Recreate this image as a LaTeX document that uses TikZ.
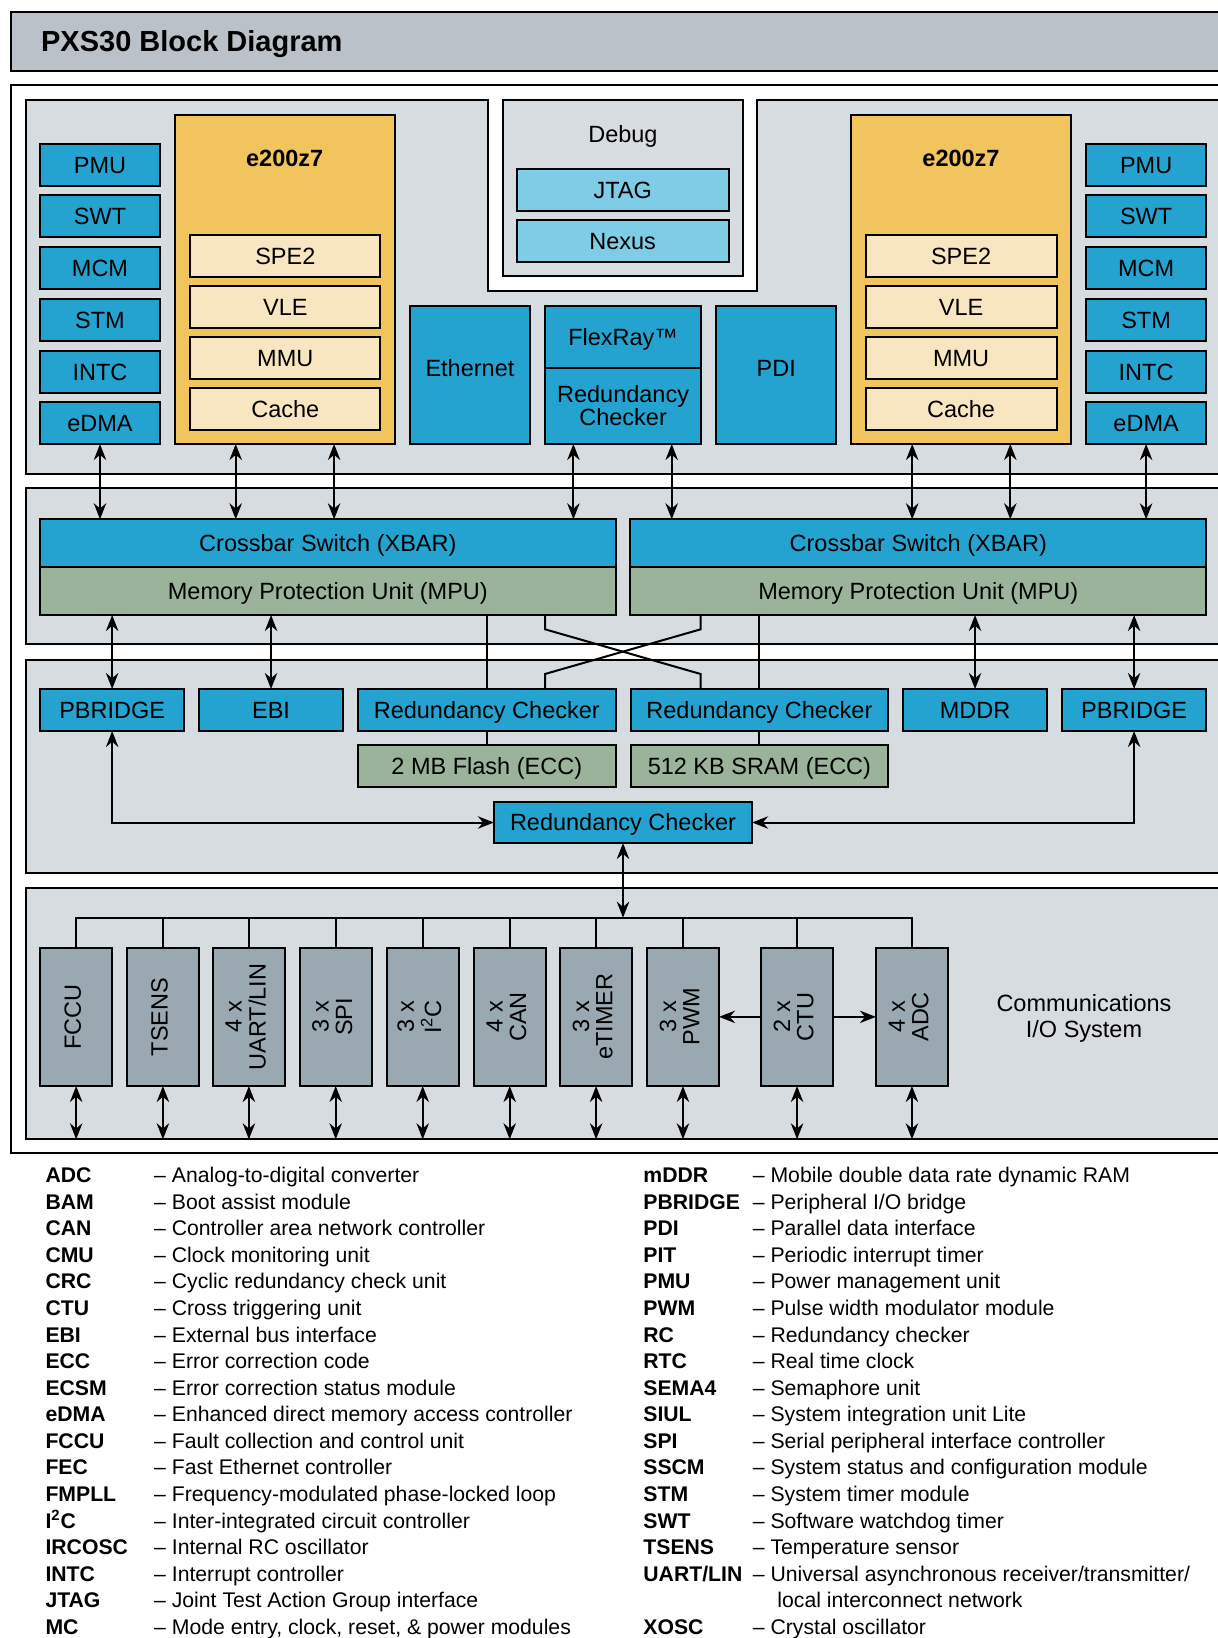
\documentclass[tikz,border=0pt]{standalone}
\usepackage{fontspec}
\usepackage{graphicx}
\setmainfont{Liberation Sans}
\usetikzlibrary{arrows.meta,calc}
\definecolor{ctitle}{HTML}{BAC1C8}
\definecolor{cpanel}{HTML}{D7DCE0}
\definecolor{cblue}{HTML}{25A3D0}
\definecolor{clblue}{HTML}{7FCCE6}
\definecolor{corange}{HTML}{F2C45E}
\definecolor{ccream}{HTML}{F8E6C0}
\definecolor{cgreen}{HTML}{9AB39A}
\definecolor{cio}{HTML}{9AA8B1}
\newcommand\lblfont{\fontsize{11.75}{11.65}\selectfont}
\newcommand\legfont{\fontsize{10.6}{13.3}\selectfont}
\newcommand\blkn[7]{\node[#6, minimum width={(#4-#2)*0.5pt}, minimum height={(#5-#3)*0.5pt}] (#1) at ({(#2+#4)/2},{(#3+#5)/2}) {#7};}
\newcommand\rtxt[1]{\rotatebox{90}{\begin{tabular}{@{}c@{}}#1\end{tabular}}}
\tikzset{
  bx/.style={draw, line width=1pt, inner sep=0pt, outer sep=0pt, font=\lblfont, text height=8.4pt, text depth=0pt},
  bxm/.style={draw, line width=1pt, inner sep=0pt, outer sep=0pt, font=\lblfont, align=center},
  bluebx/.style={bx, fill=cblue},
  lbluebx/.style={bx, fill=clblue},
  creambx/.style={bx, fill=ccream},
  greenbx/.style={bx, fill=cgreen},
  orangebx/.style={bx, fill=corange},
  panelbx/.style={bx, fill=cpanel},
  iobx/.style={bxm, fill=cio},
  raised/.style={text depth=7.2pt},
  panelfill/.style={draw, line width=1pt, fill=cpanel},
  conn/.style={line width=1pt},
  dbl/.style={line width=1pt, {Stealth[length=8pt,width=6.2pt,inset=2.6pt]}-{Stealth[length=8pt,width=6.2pt,inset=2.6pt]}},
  arr/.style={line width=1pt, -{Stealth[length=8pt,width=6.2pt,inset=2.6pt]}},
  leg/.style={font=\legfont, inner sep=0pt, outer sep=0pt},
  plain/.style={font=\lblfont, inner sep=0pt, outer sep=0pt}
}
\begin{document}
\begin{tikzpicture}[x=0.5pt,y=-0.5pt]
\clip (0,0) rectangle (1218,1638);
\fill[white] (0,0) rectangle (1218,1638);

% title bar
\blkn{titlebar}{10.7}{11.7}{1240}{71}{bx, fill=ctitle}{}
\node[anchor=base west, inner sep=0pt, font=\fontsize{14.5}{16}\selectfont\bfseries] (ttl) at (40.7,51.7) {PXS30 Block Diagram};

% outer frame
\draw[line width=1pt] (10.7,85) rectangle (1240,1152.7);

% panels
\draw[panelfill] (25.7,99.7) -- (488.3,99.7) -- (488.3,290.7) -- (756.9,290.7) -- (756.9,99.7) -- (1240,99.7) -- (1240,474) -- (25.7,474) -- cycle;
\blkn{debug}{503}{100}{742.7}{276}{panelbx}{}
\node[plain, anchor=base] (debugt) at (622.9,142.7) {Debug};
\blkn{pxbar}{25.7}{488}{1240}{644.3}{panelbx}{}
\blkn{pmem}{25.7}{660}{1240}{873.3}{panelbx}{}
\blkn{pio}{25.7}{887.7}{1240}{1139.3}{panelbx}{}

% debug
\blkn{jtag}{516.8}{169}{728.5}{210.7}{lbluebx}{JTAG}
\blkn{nexus}{516.8}{220}{728.5}{262}{lbluebx}{Nexus}

% left column
\blkn{pmuL}{40}{144}{160}{186}{bluebx}{PMU}
\blkn{swtL}{40}{195}{160}{237}{bluebx}{SWT}
\blkn{mcmL}{40}{247}{160}{288.7}{bluebx}{MCM}
\blkn{stmL}{40}{299}{160}{340.7}{bluebx}{STM}
\blkn{intcL}{40}{351}{160}{392.7}{bluebx}{INTC}
\blkn{edmaL}{40}{402.3}{160}{444}{bluebx}{eDMA}
% right column
\blkn{pmuR}{1086}{144}{1206.2}{186}{bluebx}{PMU}
\blkn{swtR}{1086}{195}{1206.2}{237}{bluebx}{SWT}
\blkn{mcmR}{1086}{247}{1206.2}{288.7}{bluebx}{MCM}
\blkn{stmR}{1086}{299}{1206.2}{340.7}{bluebx}{STM}
\blkn{intcR}{1086}{351}{1206.2}{392.7}{bluebx}{INTC}
\blkn{edmaR}{1086}{402.3}{1206.2}{444}{bluebx}{eDMA}

% cores
\blkn{cpuL}{174.8}{115}{394.6}{444}{orangebx}{}
\node[plain, anchor=base, font=\lblfont\bfseries] (cpuLt) at (284.7,166.7) {e200z7};
\blkn{spe2L}{190.2}{235}{380.4}{276.7}{creambx}{SPE2}
\blkn{vleL}{190.2}{286}{380.4}{327.7}{creambx}{VLE}
\blkn{mmuL}{190.2}{337}{380.4}{378.7}{creambx}{MMU}
\blkn{cacheL}{190.2}{388}{380.4}{430}{creambx}{Cache}
\blkn{cpuR}{850.7}{115}{1071.4}{444}{orangebx}{}
\node[plain, anchor=base, font=\lblfont\bfseries] (cpuRt) at (961,166.7) {e200z7};
\blkn{spe2R}{865.7}{235}{1056.5}{276.7}{creambx}{SPE2}
\blkn{vleR}{865.7}{286}{1056.5}{327.7}{creambx}{VLE}
\blkn{mmuR}{865.7}{337}{1056.5}{378.7}{creambx}{MMU}
\blkn{cacheR}{865.7}{388}{1056.5}{430}{creambx}{Cache}

% middle
\blkn{eth}{410}{306}{529.9}{444}{bluebx, raised}{Ethernet}
\blkn{flexU}{544.9}{306}{701.3}{367.7}{bluebx}{FlexRay™}
\blkn{flexD}{544.9}{367.7}{701.3}{444}{bxm, fill=cblue, font=\fontsize{11.75}{11.65}\selectfont}{Redundancy\\Checker}
\blkn{pdi}{716.3}{306}{836.1}{444}{bluebx, raised}{PDI}

% crossbars
\blkn{xbarL}{40}{519.3}{615.7}{566.7}{bluebx}{Crossbar Switch (XBAR)}
\blkn{mpuL}{40}{566.7}{615.7}{615}{greenbx}{Memory Protection Unit (MPU)}
\blkn{xbarR}{630.4}{519.3}{1206.2}{566.7}{bluebx}{Crossbar Switch (XBAR)}
\blkn{mpuR}{630.4}{566.7}{1206.2}{615}{greenbx}{Memory Protection Unit (MPU)}

% memory row
\blkn{pbL}{40}{689}{184.3}{731}{bluebx}{PBRIDGE}
\blkn{ebi}{198.9}{689}{343.2}{731}{bluebx}{EBI}
\blkn{rcL}{357.9}{689}{615.7}{731}{bluebx}{Redundancy Checker}
\blkn{flash}{357.9}{745}{615.7}{787}{greenbx}{2 MB Flash (ECC)}
\blkn{rcR}{630.7}{689}{888.1}{731}{bluebx}{Redundancy Checker}
\blkn{sram}{630.7}{745}{888.1}{787}{greenbx}{512 KB SRAM (ECC)}
\blkn{mddr}{902.7}{689}{1047.4}{731}{bluebx}{MDDR}
\blkn{pbR}{1062}{689}{1206.2}{731}{bluebx}{PBRIDGE}
\blkn{rcB}{493.9}{802}{752.1}{843}{bluebx}{Redundancy Checker}

% IO boxes
\blkn{fccu}{40}{947.7}{112.3}{1086}{iobx}{\rtxt{FCCU}}
\blkn{tsens}{126.9}{947.7}{198.9}{1086}{iobx}{\rtxt{TSENS}}
\blkn{uart}{213.1}{947.7}{284.7}{1086}{iobx}{\rtxt{4 x\\UART/LIN}}
\blkn{spi}{299.7}{947.7}{371.7}{1086}{iobx}{\rtxt{3 x\\SPI}}
\blkn{iic}{386.7}{947.7}{458.7}{1086}{iobx}{\rtxt{3 x\\I\textsuperscript{2}C}}
\blkn{can}{473.7}{947.7}{545.7}{1086}{iobx}{\rtxt{4 x\\CAN}}
\blkn{etimer}{559.9}{947.7}{632.3}{1086}{iobx}{\rtxt{3 x\\eTIMER}}
\blkn{pwm}{646.9}{947.7}{719}{1086}{iobx}{\rtxt{3 x\\PWM}}
\blkn{ctu}{760.8}{947.7}{833.3}{1086}{iobx}{\rtxt{2 x\\CTU}}
\blkn{adc}{875.9}{947.7}{948}{1086}{iobx}{\rtxt{4 x\\ADC}}
\node[plain, align=center, font=\fontsize{11.75}{12.8}\selectfont] (commt) at (1084,1018.6) {Communications\\I/O System};

% helper coordinates
\coordinate (c1) at (235.7,0);
\coordinate (c2) at (334.1,0);
\coordinate (c3) at (573.4,0);
\coordinate (c4) at (671.7,0);
\coordinate (c5) at (912.2,0);
\coordinate (c6) at (1010.3,0);
\coordinate (cA) at (545,0);
\coordinate (cB) at (700.7,0);
\coordinate (k1) at (0,629.3);
\coordinate (k2) at (0,674);
\coordinate (busy) at (0,917.7);

% panel 1 -> crossbars
\draw[dbl] (edmaL.south) -- (edmaL.south |- xbarL.north);
\draw[dbl] (cpuL.south -| c1) -- (xbarL.north -| c1);
\draw[dbl] (cpuL.south -| c2) -- (xbarL.north -| c2);
\draw[dbl] (flexD.south -| c3) -- (xbarL.north -| c3);
\draw[dbl] (flexD.south -| c4) -- (xbarR.north -| c4);
\draw[dbl] (cpuR.south -| c5) -- (xbarR.north -| c5);
\draw[dbl] (cpuR.south -| c6) -- (xbarR.north -| c6);
\draw[dbl] (edmaR.south) -- (edmaR.south |- xbarR.north);

% crossbars -> memory row
\draw[dbl] (mpuL.south -| pbL.north) -- (pbL.north);
\draw[dbl] (mpuL.south -| ebi.north) -- (ebi.north);
\draw[dbl] (mpuR.south -| mddr.north) -- (mddr.north);
\draw[dbl] (mpuR.south -| pbR.north) -- (pbR.north);
\draw[conn] (mpuL.south -| rcL.north) -- (rcL.north);
\draw[conn] (rcL.south) -- (flash.north);
\draw[conn] (mpuR.south -| rcR.north) -- (rcR.north);
\draw[conn] (rcR.south) -- (sram.north);
\draw[conn] (mpuL.south -| cA) -- (cA |- k1) -- (cB |- k2) -- (rcR.north -| cB);
\draw[conn] (mpuR.south -| cB) -- (cB |- k1) -- (cA |- k2) -- (rcL.north -| cA);

% PBRIDGE <-> RC
\draw[dbl] (pbL.south) |- (rcB.west);
\draw[dbl] (pbR.south) |- (rcB.east);
\draw[dbl] (rcB.south) -- (rcB.south |- busy);

% IO bus
\draw[conn] (fccu.north) |- (adc.north |- busy) -- (adc.north);
\foreach \n in {tsens,uart,spi,iic,can,etimer,pwm,ctu}
  \draw[conn] (\n.north) -- (\n.north |- busy);
\foreach \n in {fccu,tsens,uart,spi,iic,can,etimer,pwm,ctu,adc}
  \draw[dbl] (\n.south) -- (\n.south |- pio.south);
\draw[arr] (ctu.west) -- (pwm.east);
\draw[arr] (ctu.east) -- (adc.west);

% legend left
\foreach \ab/\de [count=\i from 0] in {{ADC}/{Analog-to-digital converter},{BAM}/{Boot assist module},{CAN}/{Controller area network controller},{CMU}/{Clock monitoring unit},{CRC}/{Cyclic redundancy check unit},{CTU}/{Cross triggering unit},{EBI}/{External bus interface},{ECC}/{Error correction code},{ECSM}/{Error correction status module},{eDMA}/{Enhanced direct memory access controller},{FCCU}/{Fault collection and control unit},{FEC}/{Fast Ethernet controller},{FMPLL}/{Frequency-modulated phase-locked loop},{I\textsuperscript{2}C}/{Inter-integrated circuit controller},{IRCOSC}/{Internal RC oscillator},{INTC}/{Interrupt controller},{JTAG}/{Joint Test Action Group interface},{MC}/{Mode entry, clock, reset, \& power modules}}{
  \node[leg, anchor=base west] (la\i) at (45.5,{1182.7+26.56*\i}) {\bfseries\ab};
  \node[leg, anchor=base west] (ld\i) at (154.2,{1182.7+26.56*\i}) {– \de};
}
% legend right
\foreach \ab/\de [count=\i from 0] in {{mDDR}/{Mobile double data rate dynamic RAM},{PBRIDGE}/{Peripheral I/O bridge},{PDI}/{Parallel data interface},{PIT}/{Periodic interrupt timer},{PMU}/{Power management unit},{PWM}/{Pulse width modulator module},{RC}/{Redundancy checker},{RTC}/{Real time clock},{SEMA4}/{Semaphore unit},{SIUL}/{System integration unit Lite},{SPI}/{Serial peripheral interface controller},{SSCM}/{System status and configuration module},{STM}/{System timer module},{SWT}/{Software watchdog timer},{TSENS}/{Temperature sensor},{UART/LIN}/{Universal asynchronous receiver/transmitter/}}{
  \node[leg, anchor=base west] (ra\i) at (643.4,{1182.7+26.56*\i}) {\bfseries\ab};
  \node[leg, anchor=base west] (rd\i) at (752.9,{1182.7+26.56*\i}) {– \de};
}
\node[leg, anchor=base west] (rd16) at (777.4,{1182.7+26.56*16}) {local interconnect network};
\node[leg, anchor=base west] (ra17) at (643.4,{1182.7+26.56*17}) {\bfseries XOSC};
\node[leg, anchor=base west] (rd17) at (752.9,{1182.7+26.56*17}) {– Crystal oscillator};
\end{tikzpicture}
\end{document}
